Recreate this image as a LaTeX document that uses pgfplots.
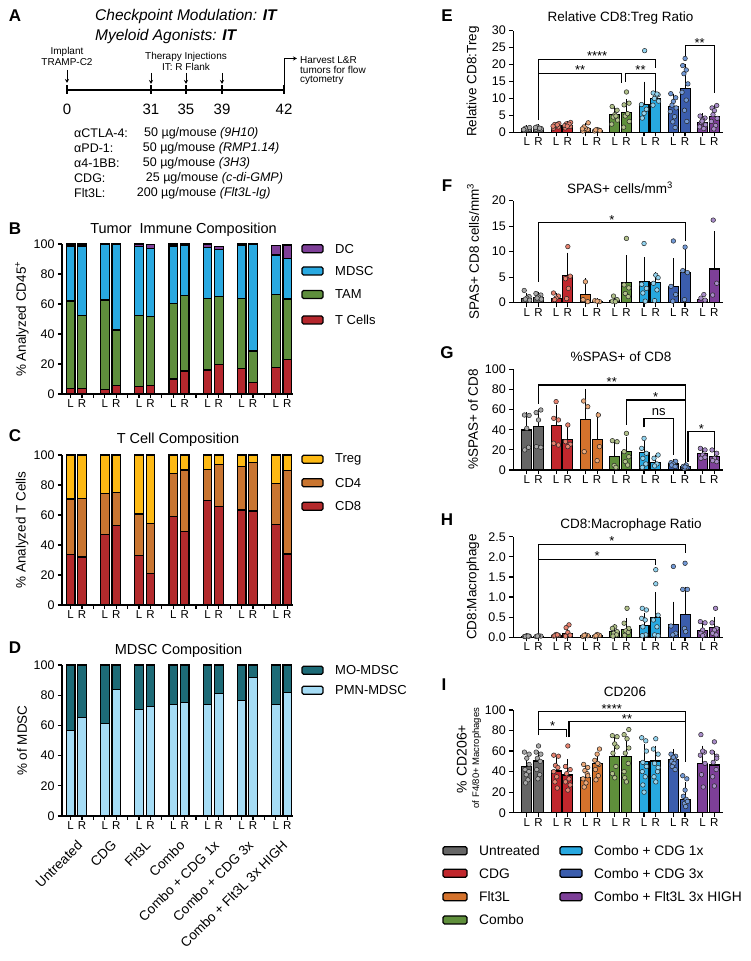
\documentclass[border=0pt]{standalone}
\usepackage{fontspec}
\setmainfont{Liberation Sans}
\usepackage{pgfplots}
\pgfplotsset{compat=1.18}
\usetikzlibrary{arrows.meta}

\definecolor{cU}{HTML}{666666}\definecolor{cUl}{HTML}{A9A9A9}
\definecolor{cC}{HTML}{C1272D}\definecolor{cCl}{HTML}{E8826F}
\definecolor{cF}{HTML}{D4722C}\definecolor{cFl}{HTML}{ECAA7A}
\definecolor{cM}{HTML}{5F8F3B}\definecolor{cMl}{HTML}{B2C28A}
\definecolor{cA}{HTML}{27A8E0}\definecolor{cAl}{HTML}{92D4F0}
\definecolor{cB}{HTML}{3B5DAD}\definecolor{cBl}{HTML}{7299D6}
\definecolor{cH}{HTML}{7D3F98}\definecolor{cHl}{HTML}{A98CC9}
\definecolor{sDC}{HTML}{7E3F98}
\definecolor{sMD}{HTML}{29A9E1}
\definecolor{sTAM}{HTML}{5E8E3C}
\definecolor{sT}{HTML}{B5272D}
\definecolor{sTreg}{HTML}{FDB913}
\definecolor{sCD4}{HTML}{C97530}
\definecolor{sCD8}{HTML}{B32A2C}
\definecolor{sMO}{HTML}{1D6B77}
\definecolor{sPMN}{HTML}{A5DCF5}

\newcommand{\fs}[1]{\fontsize{#1}{#1}\selectfont}

\pgfplotsset{
 gp/.style={scale only axis, axis x line*=bottom, axis y line*=left,
   axis line style={line width=1.3pt}, tick align=outside, major tick length=4pt,
   tick style={black, line width=1.2pt},
   yticklabel style={font=\fs{12.5}},
   xticklabel style={font=\fs{11.5}, inner sep=1.5pt},
   /pgf/number format/assume math mode=true, ymin=0, clip=false,
   ylabel style={font=\fs{13.5}}},
 lft/.style={gp, width=231pt, xmin=-0.76, xmax=19.5, xtick={0,...,19},
   xticklabels={L,R,{},L,R,{},L,R,{},L,R,{},L,R,{},L,R,{},L,R},
   ymax=100, ytick={0,20,...,100}, ybar stacked, bar width=0.76,
   ylabel style={at={(axis description cs:-0.173,0.5)}, anchor=center}},
 rgt/.style={gp, width=210pt, xmin=-1.15, xmax=16.76,
   xtick={0,1,2.5,3.5,5,6,7.5,8.5,10,11,12.5,13.5,15,16},
   xticklabels={L,R,L,R,L,R,L,R,L,R,L,R,L,R},
   ylabel style={at={(axis description cs:-0.192,0.5)}, anchor=center}},
 sbar/.style={fill=#1, draw=black, line width=1.2pt},
 gbar/.style={ybar, bar width=0.85, bar shift=0pt, fill=#1, draw=black, line width=1.1pt,
   error bars/y dir=plus, error bars/y explicit,
   error bars/error bar style={line width=0.9pt, black},
   error bars/error mark options={line width=0.9pt, mark size=2.6pt, black}},
 gdot/.style={only marks, mark=*, mark size=2.3pt, mark options={fill=#1, draw=black!85, line width=0.5pt}},
}
\tikzset{grp/.style={rotate=45, anchor=east, font=\fs{13.5}, inner sep=0pt}}

% bracket: x1, y-left-bottom, x2, y-right-bottom, top, mid, label
\newcommand{\brk}[7]{%
 \draw[line width=1.1pt] (axis cs:#1,#2) -- (axis cs:#1,#5) -- (axis cs:#3,#5) -- (axis cs:#3,#4);
 \node[font=\fs{13}, anchor=base, inner sep=0pt, yshift=-1.5pt] at (axis cs:#6,#5) {#7};}
\newcommand{\lbox}[6][13]{% x1 x2 y color text
 \draw[fill=#5, line width=1.3pt, rounded corners=1.5pt] (#2,#4-4) rectangle (#3,#4+4);
 \node[anchor=west, font=\fs{#1}, inner sep=0pt] at (#3+12,#4) {#6};}

\begin{document}
\begin{tikzpicture}[x=1pt,y=1pt]
\useasboundingbox (0,0) rectangle (751,961);

% ---------------- Panel A ----------------
\node[font=\fs{17}\bfseries] at (15,945) {A};
\node[anchor=west, font=\fs{15.5}, inner sep=0pt] at (95,944) {\textit{Checkpoint Modulation: }\textbf{\textit{IT}}};
\node[anchor=west, font=\fs{15.5}, inner sep=0pt] at (95,924) {\textit{Myeloid Agonists: }\textbf{\textit{IT}}};
\node[font=\fs{10}] at (67,909.5) {Implant};
\node[font=\fs{10}] at (67,898.5) {TRAMP-C2};
\node[font=\fs{10}] at (186,904) {Therapy Injections};
\node[font=\fs{10}] at (186,894) {IT: R Flank};
\draw[line width=1pt, -{Stealth[length=4pt,width=4pt]}] (67,891) -- (67,878);
\foreach \xx in {151,186,222} \draw[line width=1pt, -{Stealth[length=4pt,width=4pt]}] (\xx,888) -- (\xx,877);
\draw[line width=1.6pt] (67,871) -- (284,871);
\foreach \xx/\lab in {67/0,151/31,186/35,222/39,284/42} {
  \draw[line width=1.6pt] (\xx,875.5) -- (\xx,866.5);
  \node[font=\fs{15}] at (\xx,852) {\lab};}
\draw[line width=1pt, -{Stealth[length=4pt,width=4pt]}] (284,875) -- (284,902.5) -- (297,902.5);
\node[anchor=west, font=\fs{10}, inner sep=0pt] at (300,901) {Harvest L\&R};
\node[anchor=west, font=\fs{10}, inner sep=0pt] at (300,891) {tumors for flow};
\node[anchor=west, font=\fs{10}, inner sep=0pt] at (300,881) {cytometry};
\begin{scope}[every node/.style={anchor=west, font=\fs{12.5}, inner sep=0pt}]
\node at (74,828) {αCTLA-4:}; \node at (144,828) {50 µg/mouse \textit{(9H10)}};
\node at (74,813) {αPD-1:};   \node at (142.7,813) {50 µg/mouse \textit{(RMP1.14)}};
\node at (74,798) {α4-1BB:};  \node at (142.7,798) {50 µg/mouse \textit{(3H3)}};
\node at (74,783) {CDG:};     \node at (145.7,783) {25 µg/mouse \textit{(c-di-GMP)}};
\node at (74,768) {Flt3L:};   \node at (136.7,768) {200 µg/mouse \textit{(Flt3L-Ig)}};
\end{scope}

% ---------------- Panel B ----------------
\node[font=\fs{17}\bfseries] at (15,732) {B};
\node[font=\fs{14.5}] at (183.5,731) {Tumor~ Immune Composition};
\begin{axis}[lft, at={(62pt,567pt)}, anchor=south west, height=150pt,
  ylabel={\% Analyzed CD45\textsuperscript{+}}]
\addplot[sbar=sT] coordinates {(0,3.8)(1,3.5)(3,3.1)(4,5.8)(6,4.9)(7,5.6)(9,10.0)(10,15.3)(12,16.0)(13,19.6)(15,16.9)(16,7.8)(18,17.8)(19,23.1)};
\addplot[sbar=sTAM] coordinates {(0,58.2)(1,48.9)(3,59.6)(4,36.9)(6,47.3)(7,46.0)(9,50.4)(10,50.3)(12,47.6)(13,45.3)(15,46.7)(16,20.9)(18,48.6)(19,40.2)};
\addplot[sbar=sMD] coordinates {(0,36.7)(1,46.3)(3,37.1)(4,57.1)(6,46.0)(7,45.4)(9,38.3)(10,33.7)(12,34.2)(13,31.5)(15,35.7)(16,71.1)(18,26.3)(19,27.1)};
\addplot[sbar=sDC] coordinates {(0,1.3)(1,1.3)(3,0.2)(4,0.2)(6,1.8)(7,2.5)(9,1.3)(10,0.7)(12,2.2)(13,1.8)(15,0.7)(16,0.2)(18,6.2)(19,8.9)};
\end{axis}
\lbox{302}{323}{712.2}{sDC}{DC}
\lbox{302}{323}{690}{sMD}{MDSC}
\lbox{302}{323}{666.5}{sTAM}{TAM}
\lbox{302}{323}{641}{sT}{T Cells}

% ---------------- Panel C ----------------
\node[font=\fs{17}\bfseries] at (15,525) {C};
\node[font=\fs{14.5}] at (178,521) {T Cell Composition};
\begin{axis}[lft, at={(62pt,356pt)}, anchor=south west, height=150pt,
  ylabel={\% Analyzed T Cells}]
\addplot[sbar=sCD8] coordinates {(0,33.8)(1,32.0)(3,47.1)(4,52.9)(6,32.9)(7,21.1)(9,58.9)(10,48.9)(12,69.6)(13,65.6)(15,63.3)(16,62.7)(18,53.8)(19,34.0)};
\addplot[sbar=sCD4] coordinates {(0,36.9)(1,39.1)(3,27.3)(4,22.2)(6,27.8)(7,33.3)(9,28.9)(10,41.1)(12,20.6)(13,28.2)(15,29.1)(16,32.2)(18,27.3)(19,55.6)};
\addplot[sbar=sTreg] coordinates {(0,29.3)(1,28.9)(3,25.6)(4,24.9)(6,39.3)(7,45.6)(9,12.2)(10,10.0)(12,9.8)(13,6.2)(15,7.6)(16,5.1)(18,18.9)(19,10.4)};
\end{axis}
\lbox{302}{323}{501.7}{sTreg}{Treg}
\lbox{302}{323}{478.2}{sCD4}{CD4}
\lbox{302}{323}{454.7}{sCD8}{CD8}

% ---------------- Panel D ----------------
\node[font=\fs{17}\bfseries] at (15,313) {D};
\node[font=\fs{14.5}] at (178.5,310) {MDSC Composition};
\begin{axis}[lft, at={(62pt,145pt)}, anchor=south west, height=151pt,
  ylabel={\% of MDSC}]
\addplot[sbar=sPMN] coordinates {(0,56.7)(1,65.1)(3,61.3)(4,84.0)(6,70.4)(7,72.4)(9,73.6)(10,75.1)(12,73.6)(13,81.3)(15,76.7)(16,91.9)(18,73.6)(19,82.0)};
\addplot[sbar=sMO] coordinates {(0,43.3)(1,34.9)(3,38.7)(4,16.0)(6,29.6)(7,27.6)(9,26.4)(10,24.9)(12,26.4)(13,18.7)(15,23.3)(16,8.1)(18,26.4)(19,18.0)};
\node[grp] at ([xshift=3.5pt,yshift=-27pt]axis cs:0.5,0) {Untreated};
\node[grp] at ([xshift=3.5pt,yshift=-27pt]axis cs:3.5,0) {CDG};
\node[grp] at ([xshift=3.5pt,yshift=-27pt]axis cs:6.5,0) {Flt3L};
\node[grp] at ([xshift=3.5pt,yshift=-27pt]axis cs:9.5,0) {Combo};
\node[grp] at ([xshift=3.5pt,yshift=-27pt]axis cs:12.5,0) {Combo + CDG 1x};
\node[grp] at ([xshift=3.5pt,yshift=-27pt]axis cs:15.5,0) {Combo + CDG 3x};
\node[grp] at ([xshift=3.5pt,yshift=-27pt]axis cs:18.5,0) {Combo + Flt3L 3x HIGH};
\end{axis}
\lbox{302}{323}{290.7}{sMO}{MO-MDSC}
\lbox{302}{323}{270.7}{sPMN}{PMN-MDSC}

% ---------------- Panel E ----------------
\node[font=\fs{17}\bfseries] at (447,945) {E};
\node[font=\fs{13.5}] at (620.5,943) {Relative CD8:Treg Ratio};
\begin{axis}[rgt, at={(513.3pt,828.7pt)}, anchor=south west, height=101.6pt,
  ymax=30, ytick={0,5,...,30}, ylabel={Relative CD8:Treg}]
\addplot[gbar=cU] coordinates {(0,1.0)+-(0,0.3) (1,1.2)+-(0,0.35)};
\addplot[gbar=cC] coordinates {(2.5,1.9)+-(0,0.5) (3.5,2.0)+-(0,0.6)};
\addplot[gbar=cF] coordinates {(5,1.2)+-(0,0.9) (6,0.6)+-(0,0.2)};
\addplot[gbar=cM] coordinates {(7.5,5.3)+-(0,1.6) (8.5,5.8)+-(0,3.2)};
\addplot[gbar=cA] coordinates {(10,8.3)+-(0,5.9) (11,10.0)+-(0,1.6)};
\addplot[gbar=cB] coordinates {(12.5,7.6)+-(0,3.0) (13.5,13.0)+-(0,6.3)};
\addplot[gbar=cH] coordinates {(15,3.0)+-(0,1.9) (16,4.6)+-(0,2.7)};
\addplot[gdot=cUl] coordinates {(-0.22,0.6)(0.2,0.9)(0,1.0)(-0.12,1.2)(0.24,1.4)(-0.26,0.8)(0.78,0.9)(1.2,1.1)(1,1.3)(0.88,1.6)(1.24,1.0)(0.74,1.4)(1.1,1.2)};
\addplot[gdot=cCl] coordinates {(2.28,1.2)(2.7,1.6)(2.5,2.0)(2.38,2.3)(2.74,2.6)(2.24,1.8)(2.6,2.2)(3.28,1.3)(3.7,1.7)(3.5,2.1)(3.38,2.5)(3.74,2.9)(3.24,2.0)(3.6,2.4)(3.45,1.8)};
\addplot[gdot=cFl] coordinates {(4.78,0.4)(5.2,0.8)(5,1.2)(4.88,1.6)(5.24,2.8)(4.74,1.0)(5.78,0.4)(6.2,0.6)(6,0.8)(5.88,0.7)(6.24,0.5)};
\addplot[gdot=cMl] coordinates {(7.28,7.6)(7.7,6.5)(7.5,5.2)(7.38,4.5)(7.74,3.6)(7.24,2.4)(7.6,4.8)(8.5,11.9)(8.72,8.6)(8.3,8.1)(8.4,4.8)(8.74,3.2)(8.26,1.5)(8.6,5.5)};
\addplot[gdot=cAl] coordinates {(10.05,24.1)(9.78,8.2)(10.2,6.8)(10,5.6)(9.85,4.2)(10.78,11.6)(11.2,11.1)(11,10.6)(10.88,10.0)(11.24,9.2)(10.76,8.0)(11.1,11.3)};
\addplot[gdot=cBl] coordinates {(12.28,11.4)(12.7,10.2)(12.5,9.1)(12.38,8.0)(12.74,7.2)(12.24,6.1)(12.6,4.6)(12.45,3.1)(12.65,1.4)(13.5,21.8)(13.3,19.7)(13.6,18.4)(13.4,17.3)(13.74,14.3)(13.24,11.8)(13.6,9.5)(13.45,6.5)(13.65,3.2)};
\addplot[gdot=cHl] coordinates {(14.78,4.8)(15.2,4.2)(15,3.6)(14.88,2.9)(15.24,2.2)(14.74,1.6)(15.1,1.1)(14.95,3.3)(16.2,7.9)(15.8,7.2)(16,6.4)(15.88,5.2)(16.24,4.1)(15.74,3.2)(16.1,2.0)(15.95,1.0)};
\brk{1}{3.6}{11}{18.9}{21.5}{6}{****}
\brk{1}{3.6}{8.1}{14.5}{17.4}{4.55}{**}
\brk{8.4}{14.9}{11}{12.5}{17.4}{9.7}{**}
\brk{13.5}{22.5}{16}{11.7}{25.5}{14.75}{**}
\end{axis}

% ---------------- Panel F ----------------
\node[font=\fs{17}\bfseries] at (447,775) {F};
\node[font=\fs{13.5}] at (620,773) {SPAS+ cells/mm\textsuperscript{3}};
\begin{axis}[rgt, at={(513.3pt,658.3pt)}, anchor=south west, height=102pt,
  ymax=20, ytick={0,5,...,20}, ylabel={SPAS+ CD8 cells/mm\textsuperscript{3}}]
\addplot[gbar=cU] coordinates {(0,0.8)+-(0,0.5) (1,1.1)+-(0,0.4)};
\addplot[gbar=cC] coordinates {(2.5,0.9)+-(0,0.5) (3.5,5.3)+-(0,4.0)};
\addplot[gbar=cF] coordinates {(5,1.6)+-(0,2.7) (6,0.3)+-(0,0.1)};
\addplot[gbar=cM] coordinates {(7.5,0.5)+-(0,0.5) (8.5,4.0)+-(0,4.8)};
\addplot[gbar=cA] coordinates {(10,4.1)+-(0,4.3) (11,3.9)+-(0,1.6)};
\addplot[gbar=cB] coordinates {(12.5,3.1)+-(0,5.1) (13.5,5.9)+-(0,4.2)};
\addplot[gbar=cH] coordinates {(15,0.6)+-(0,0.5) (16,6.6)+-(0,6.9)};
\addplot[gdot=cUl] coordinates {(-0.22,2.4)(0.2,1.2)(0,0.9)(-0.12,0.7)(0.24,0.5)(0.78,1.8)(1.2,1.5)(1,1.1)(0.88,0.9)(1.24,0.7)};
\addplot[gdot=cCl] coordinates {(2.28,1.9)(2.7,1.3)(2.5,0.9)(2.38,0.6)(3.5,11.0)(3.7,5.2)(3.3,4.7)(3.55,2.8)(3.4,0.8)};
\addplot[gdot=cFl] coordinates {(5,4.1)(4.8,0.6)(5.2,0.2)(5.8,0.4)(6.2,0.2)(6,0.3)};
\addplot[gdot=cMl] coordinates {(7.4,1.3)(7.7,0.6)(7.3,0.3)(7.55,0.2)(8.5,12.6)(8.3,3.5)(8.7,2.9)(8.4,1.8)(8.65,1.2)};
\addplot[gdot=cAl] coordinates {(10,11.6)(9.8,3.6)(10.2,2.8)(9.9,1.9)(10.1,0.3)(11,5.4)(11.2,4.9)(10.8,3.8)(11.1,2.5)(10.9,0.4)};
\addplot[gdot=cBl] coordinates {(12.5,12.1)(12.3,3.2)(12.7,1.6)(12.45,0.3)(13.5,10.9)(13.3,6.3)(13.7,5.9)(13.45,0.6)};
\addplot[gdot=cHl] coordinates {(15.1,1.6)(14.85,0.9)(15.2,0.5)(15.9,16.2)(16.2,3.8)(15.85,1.5)};
\brk{1}{4.1}{13.5}{12}{15.7}{7.25}{*}
\end{axis}

% ---------------- Panel G ----------------
\node[font=\fs{17}\bfseries] at (447,608) {G};
\node[font=\fs{13.5}] at (621,604) {\%SPAS+ of CD8};
\begin{axis}[rgt, at={(513.3pt,491pt)}, anchor=south west, height=100.7pt,
  ymax=100, ytick={0,20,...,100}, ylabel={\%SPAS+ of CD8}]
\addplot[gbar=cU] coordinates {(0,39.7)+-(0,15.3) (1,43)+-(0,15)};
\addplot[gbar=cC] coordinates {(2.5,44)+-(0,18) (3.5,30)+-(0,10)};
\addplot[gbar=cF] coordinates {(5,50)+-(0,28) (6,30)+-(0,25)};
\addplot[gbar=cM] coordinates {(7.5,13.2)+-(0,14.3) (8.5,18)+-(0,12)};
\addplot[gbar=cA] coordinates {(10,17)+-(0,9.5) (11,7.3)+-(0,5.3)};
\addplot[gbar=cB] coordinates {(12.5,6)+-(0,2.3) (13.5,3.3)+-(0,1.7)};
\addplot[gbar=cH] coordinates {(15,16)+-(0,4.5) (16,13.2)+-(0,6.8)};
\addplot[gdot=cUl] coordinates {(-0.2,54.6)(0.2,54.2)(0,41.4)(0.15,22.5)(-0.18,19.9)(1.2,59.6)(0.8,57.0)(1,49.7)(0.82,23.2)(1.2,22.5)};
\addplot[gdot=cCl] coordinates {(2.5,67.9)(2.3,51.3)(2.7,49.7)(2.3,26.5)(2.7,24.8)(3.5,44.7)(3.3,28.1)(3.7,25.5)(3.5,23.2)};
\addplot[gdot=cFl] coordinates {(4.85,68.5)(5.2,62.9)(4.9,18.2)(6.1,54.6)(6.2,23.2)(6.0,9.3)};
\addplot[gdot=cMl] coordinates {(7.3,29.1)(7.7,28.1)(7.45,4.5)(7.6,2.6)(8.5,36.4)(8.3,18.2)(8.7,13.2)(8.4,8.3)(8.6,4.9)};
\addplot[gdot=cAl] coordinates {(10,31.4)(9.8,21.5)(10.2,16.6)(9.9,11.6)(10.15,6.0)(9.85,2.6)(11.2,14.9)(10.85,11.6)(11.1,6.0)(10.9,4.0)};
\addplot[gdot=cBl] coordinates {(12.7,8.6)(12.3,7.3)(12.5,6.0)(12.35,4.9)(12.65,3.4)(13.6,4.9)(13.35,3.6)(13.65,2.6)(13.45,1.7)(13.5,3.0)};
\addplot[gdot=cHl] coordinates {(14.8,21.5)(15.2,19.9)(15,14.9)(14.85,11.6)(15.2,12.6)(15.8,19.9)(16.2,16.6)(16,11.6)(16.2,8.3)(15.85,9.3)};
\brk{1}{66}{13.5}{8.3}{84.4}{7.25}{**}
\brk{8.5}{44.7}{13.5}{8.3}{69.5}{11}{*}
\brk{13.75}{8.3}{16}{23.2}{38.1}{14.9}{*}
\draw[line width=1.1pt] (axis cs:10,42.4) -- (axis cs:10,51.3) -- (axis cs:12.5,51.3) -- (axis cs:12.5,14.9);
\node[font=\fs{13}, anchor=base, inner sep=0pt, yshift=2.5pt] at (axis cs:11.25,51.3) {ns};
\end{axis}

% ---------------- Panel H ----------------
\node[font=\fs{17}\bfseries] at (447,441) {H};
\node[font=\fs{13.5}] at (631,436) {CD8:Macrophage Ratio};
\begin{axis}[rgt, at={(513.3pt,323.7pt)}, anchor=south west, height=100.6pt,
  ymax=2.5, ytick={0,0.5,1,1.5,2,2.5}, ylabel={CD8:Macrophage},
  yticklabel style={/pgf/number format/fixed, /pgf/number format/fixed zerofill, /pgf/number format/precision=1}]
\addplot[gbar=cU] coordinates {(0,0.03)+-(0,0.01) (1,0.03)+-(0,0.01)};
\addplot[gbar=cC] coordinates {(2.5,0.05)+-(0,0.02) (3.5,0.1)+-(0,0.12)};
\addplot[gbar=cF] coordinates {(5,0.04)+-(0,0.02) (6,0.05)+-(0,0.02)};
\addplot[gbar=cM] coordinates {(7.5,0.14)+-(0,0.12) (8.5,0.2)+-(0,0.21)};
\addplot[gbar=cA] coordinates {(10,0.3)+-(0,0.25) (11,0.5)+-(0,0.55)};
\addplot[gbar=cB] coordinates {(12.5,0.32)+-(0,0.5) (13.5,0.57)+-(0,0.62)};
\addplot[gbar=cH] coordinates {(15,0.17)+-(0,0.18) (16,0.25)+-(0,0.18)};
\addplot[gdot=cUl] coordinates {(-0.2,0.02)(0.2,0.03)(0,0.04)(-0.1,0.02)(0.12,0.03)(0.8,0.02)(1.2,0.03)(1,0.04)(0.9,0.03)};
\addplot[gdot=cCl] coordinates {(2.3,0.03)(2.7,0.05)(2.5,0.07)(2.4,0.04)(2.6,0.06)(3.6,0.31)(3.35,0.24)(3.5,0.12)(3.7,0.05)(3.3,0.03)};
\addplot[gdot=cFl] coordinates {(4.8,0.02)(5.2,0.04)(5,0.06)(4.9,0.05)(5.8,0.02)(6.2,0.05)(6,0.07)(5.9,0.04)};
\addplot[gdot=cMl] coordinates {(7.5,0.26)(7.3,0.22)(7.7,0.14)(7.4,0.10)(7.65,0.06)(7.35,0.03)(8.55,0.72)(8.3,0.35)(8.7,0.22)(8.45,0.16)(8.65,0.12)(8.35,0.05)};
\addplot[gdot=cAl] coordinates {(9.85,0.72)(10.2,0.68)(9.8,0.47)(10.1,0.43)(9.9,0.26)(10.15,0.06)(9.85,0.04)(11,1.68)(11,1.33)(11.2,0.55)(10.8,0.43)(11.1,0.26)(10.9,0.06)(11.2,0.04)};
\addplot[gdot=cBl] coordinates {(12.5,1.76)(12.3,0.28)(12.7,0.10)(12.45,0.06)(13.5,1.84)(13.3,1.19)(13.7,1.19)(13.45,0.22)(13.55,0.14)};
\addplot[gdot=cHl] coordinates {(14.8,0.39)(15.2,0.36)(15,0.18)(14.85,0.10)(15.15,0.06)(15,0.04)(16.1,0.72)(15.8,0.36)(16.2,0.22)(16,0.18)(15.85,0.10)(16.15,0.06)};
\brk{1}{0.1}{13.5}{2.09}{2.31}{7.25}{*}
\brk{1}{0.1}{11}{1.8}{1.94}{6}{*}
\end{axis}

% ---------------- Panel I ----------------
\node[font=\fs{17}\bfseries] at (444,276) {I};
\node[font=\fs{13.5}] at (625,269) {CD206};
\begin{axis}[rgt, at={(513.3pt,148.3pt)}, anchor=south west, height=102.7pt,
  ymax=100, ytick={0,20,...,100}]
\addplot[gbar=cU] coordinates {(0,44.8)+-(0,8.2) (1,50.3)+-(0,7.5)};
\addplot[gbar=cC] coordinates {(2.5,40.6)+-(0,11.4) (3.5,36.7)+-(0,13)};
\addplot[gbar=cF] coordinates {(5,34)+-(0,9) (6,48)+-(0,8)};
\addplot[gbar=cM] coordinates {(7.5,54.5)+-(0,16.3) (8.5,54.5)+-(0,14.5)};
\addplot[gbar=cA] coordinates {(10,49.7)+-(0,14.3) (11,50.3)+-(0,12.4)};
\addplot[gbar=cB] coordinates {(12.5,52)+-(0,7.4) (13.5,13)+-(0,14)};
\addplot[gbar=cH] coordinates {(15,48)+-(0,14.7) (16,46.4)+-(0,11.4)};
\addplot[gdot=cUl] coordinates {(-0.2,59)(0.2,57)(0,53)(-0.15,42)(0.18,40)(-0.05,37)(0.1,32)(-0.1,29)(0.2,47)(1,65)(0.8,59)(1.2,57)(0.9,53)(1.15,50)(0.85,42)(1.1,37)(0.95,33)};
\addplot[gdot=cCl] coordinates {(2.3,56)(2.7,55)(2.45,46)(2.65,44)(2.3,40)(2.55,35)(2.4,30)(2.6,24)(3.5,65)(3.3,45)(3.7,42)(3.4,38)(3.6,33)(3.3,30)(3.7,27)(3.5,22)};
\addplot[gdot=cFl] coordinates {(4.85,47)(5.2,44)(4.95,41)(5.15,38)(4.8,33)(5.05,29)(4.9,25)(5.2,36)(6.2,62)(6,57)(5.8,51)(6.15,47)(5.85,42)(6.1,36)(5.9,32)(6.05,48)};
\addplot[gdot=cMl] coordinates {(7.3,75)(7.7,74)(7.5,67)(7.35,58)(7.6,45)(7.3,38)(7.5,34)(7.7,64)(8.7,81)(8.3,76)(8.55,72)(8.4,58)(8.65,48)(8.3,40)(8.5,30)(8.7,63)(8.35,34)};
\addplot[gdot=cAl] coordinates {(9.8,73)(10.15,70)(9.9,49)(10.2,45)(9.85,40)(10.1,35)(9.9,27)(10,20)(10.2,60)(11,72)(10.8,62)(11.2,57)(10.9,48)(11.15,40)(10.85,35)(11,30)(11.2,44)};
\addplot[gdot=cBl] coordinates {(12.3,57)(12.7,55)(12.45,53)(12.6,52)(12.35,50)(12.55,48)(12.4,45)(12.65,42)(12.5,54)(13.3,36)(13.65,33)(13.5,22)(13.35,16)(13.6,13)(13.45,9)(13.55,6)(13.7,11)};
\addplot[gdot=cHl] coordinates {(14.85,76)(15.15,59)(14.8,56)(15.2,48)(14.9,37)(15.05,25)(15,60)(16,69)(15.8,59)(16.2,55)(15.9,49)(16.15,42)(15.85,35)(16,26)(16.2,53)};
\brk{1}{75.6}{13.5}{49.7}{98.4}{7.25}{****}
\brk{3.6}{73.4}{13.5}{49.7}{88.6}{8.55}{**}
\brk{1}{75.6}{3.4}{73.4}{81.2}{2.2}{*}
\end{axis}
\node[rotate=90, font=\fs{14}] at (461.7,202) {\% CD206+};
\node[rotate=90, font=\fs{9.5}] at (476.7,203) {of F4/80+ Macrophages};

% ---------------- bottom legend ----------------
\lbox[13.8]{443}{467}{110.3}{cU}{Untreated}
\lbox[13.8]{443}{467}{87.7}{cC}{CDG}
\lbox[13.8]{443}{467}{64.3}{cF}{Flt3L}
\lbox[13.8]{443}{467}{41}{cM}{Combo}
\lbox[13.8]{560}{582}{110.3}{cA}{Combo + CDG 1x}
\lbox[13.8]{560}{582}{87.7}{cB}{Combo + CDG 3x}
\lbox[13.8]{560}{582}{64.3}{cH}{Combo + Flt3L 3x HIGH}
\end{tikzpicture}
\end{document}
